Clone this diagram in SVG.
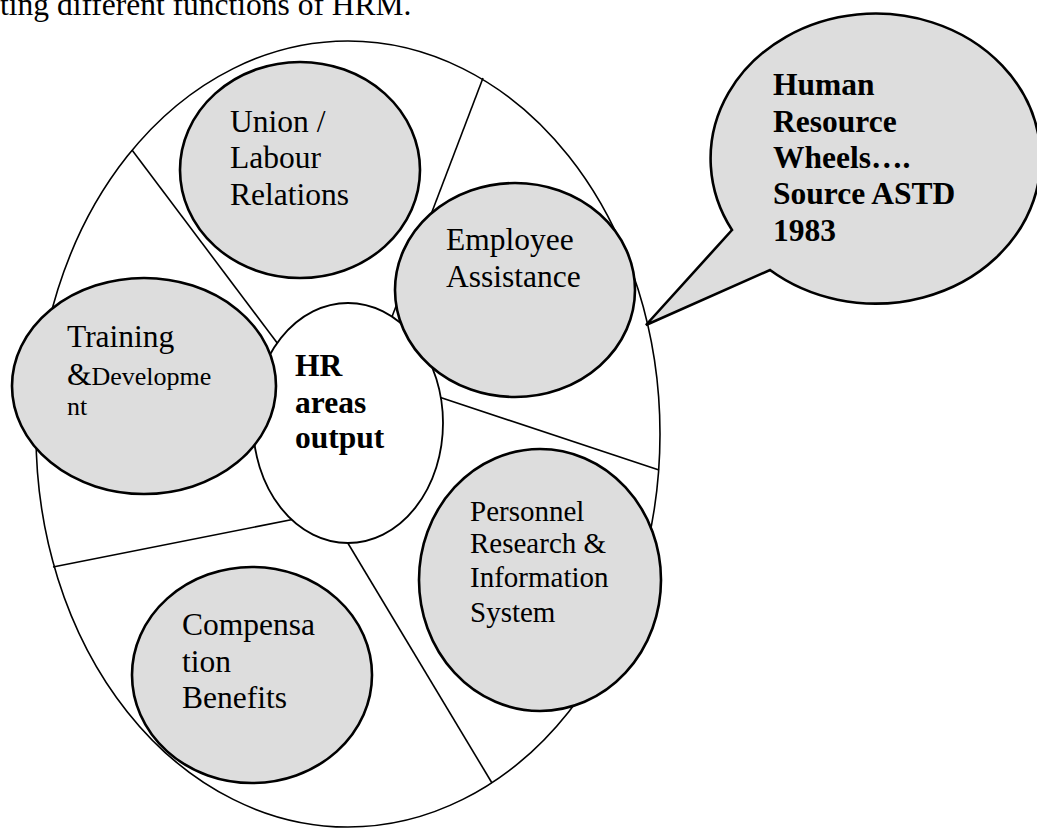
<svg xmlns="http://www.w3.org/2000/svg" width="1037" height="828" viewBox="0 0 1037 828">
<style>
.t{font-family:"Liberation Serif","Times New Roman",serif;font-size:31.5px;fill:#000}
.b{font-weight:bold}
.node{fill:#dddddd;stroke:#000;stroke-width:2.6}
.thin{fill:none;stroke:#000;stroke-width:1.6}
.hub{fill:#fff;stroke:#000;stroke-width:1.8}
</style>
<rect width="1037" height="828" fill="#fff"/>
<text class="t" x="0" y="15">ting different functions of HRM.</text>
<g id="wheel">
<ellipse class="thin" cx="348" cy="434" rx="312" ry="393"/>
</g>
<g id="connectors">
<line class="thin" x1="132" y1="150" x2="290" y2="360"/>
<line class="thin" x1="483" y1="78" x2="390" y2="322"/>
<line class="thin" x1="430" y1="394" x2="659" y2="470"/>
<line class="thin" x1="340" y1="530" x2="492" y2="783"/>
<line class="thin" x1="53" y1="567" x2="300" y2="518"/>
</g>
<g id="hub">
<ellipse class="hub" cx="348" cy="423" rx="95" ry="120"/>
<text class="t b" x="295" y="376">HR</text>
<text class="t b" x="295" y="413">areas</text>
<text class="t b" x="295" y="448">output</text>
</g>
<g id="union">
<ellipse class="node" cx="300" cy="170" rx="120" ry="108"/>
<text class="t" x="230" y="132">Union /</text>
<text class="t" x="230" y="168">Labour</text>
<text class="t" x="230" y="205">Relations</text>
</g>
<g id="employee">
<ellipse class="node" cx="515" cy="290" rx="120" ry="107"/>
<text class="t" x="446" y="250">Employee</text>
<text class="t" x="446" y="287">Assistance</text>
</g>
<g id="training">
<ellipse class="node" cx="144" cy="386" rx="132" ry="108"/>
<text class="t" x="67" y="347">Training</text>
<text class="t" x="67" y="385">&amp;<tspan style="font-size:26px">Developme</tspan></text>
<text class="t" x="67" y="415" style="font-size:26px">nt</text>
</g>
<g id="personnel">
<ellipse class="node" cx="540" cy="580" rx="121" ry="131"/>
<text class="t" x="470" y="521" style="font-size:29px">Personnel</text>
<text class="t" x="470" y="553" style="font-size:29px">Research &amp;</text>
<text class="t" x="470" y="587" style="font-size:29px">Information</text>
<text class="t" x="470" y="622" style="font-size:29px">System</text>
</g>
<g id="compensation">
<ellipse class="node" cx="252" cy="675" rx="120" ry="108"/>
<text class="t" x="182" y="635">Compensa</text>
<text class="t" x="182" y="672">tion</text>
<text class="t" x="182" y="708">Benefits</text>
</g>
<g id="callout">
<path class="node" stroke-width="3" stroke-linejoin="miter" d="M732,230 L646,325 L770,270 A165,145 0 1 0 732,230 Z"/>
<text class="t b" x="773" y="95">Human</text>
<text class="t b" x="773" y="132">Resource</text>
<text class="t b" x="773" y="168">Wheels….</text>
<text class="t b" x="773" y="204">Source ASTD</text>
<text class="t b" x="773" y="241">1983</text>
</g>
</svg>
